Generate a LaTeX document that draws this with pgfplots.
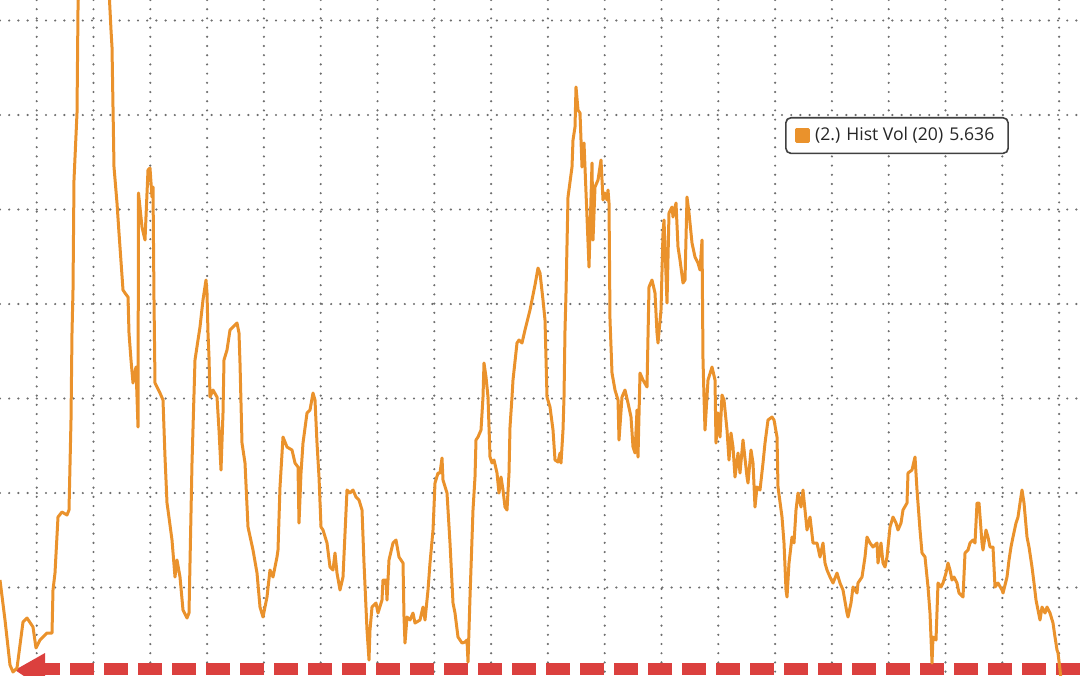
\documentclass[border=0pt]{standalone}
\usepackage{fontspec}
\setmainfont{Open Sans}
\usepackage{pgfplots}
\pgfplotsset{compat=1.18}
\definecolor{volorange}{RGB}{234,146,44}
\definecolor{arrowred}{RGB}{219,64,62}
\definecolor{gridgray}{RGB}{110,110,110}
\begin{document}
\begin{tikzpicture}
\begin{axis}[
  name=ax,
  scale only axis,
  width=540pt, height=337.5pt,
  xmin=0, xmax=1080, ymin=0, ymax=675,
  y dir=reverse,
  axis line style={draw=none},
  tick style={draw=none},
  xticklabels={}, yticklabels={},
  xtick={36.7,93.5,150.3,207.1,263.9,320.7,377.5,434.3,491.1,547.9,604.7,661.5,718.3,775.1,831.9,888.7,945.5,1002.3,1059.1},
  ytick={20.5,115,209.5,304,398.5,493,587.5},
  grid=major,
  major grid style={draw=gridgray, line width=1.2pt, line cap=round, dash pattern=on 0pt off 4.6pt},
  legend style={at={(axis description cs:0.7269,0.8267)}, anchor=north west,
    draw=black!75, line width=0.8pt, rounded corners=2.5pt, fill=white,
    font=\fontsize{8.8}{9.5}\selectfont, text=black!85,
    inner xsep=4.5pt, inner ysep=2.8pt,
    nodes={inner xsep=2.4pt}},
  legend image code/.code={\fill[volorange, sharp corners] (0pt,-3.1pt) rectangle (6.2pt,3.1pt);},
]
% red dashed arrow (annotation)
\draw[arrowred, line width=6.2pt, dash pattern=on 12pt off 5pt] (1080,669) -- (40,669);
\fill[arrowred] (15,670) -- (45,653) -- (45,690) -- cycle;
\addplot[volorange, line width=1.5pt, line join=round] coordinates {
(0,580)(5,620)(10,665)(13,672)(17,668)(20,645)(23,622)(27,618)(33,627)(36,648)(40,640)(47,633)(52,633)(53,590)(55,573)(58,517)(62,512)(67,515)(69,510)(71,420)(72,333)(73,290)(74,180)(77,113)(78,10)(79,-30)
(108,-30)(110,10)(111,30)(112,47)(114,167)(117,203)(119,233)(123,290)(125,293)(128,297)(129,333)(131,360)(133,383)(136,367)(138,427)(138.5,193)(142,227)(145,240)(148,170)(150,168)(152,197)(153,187)(154,300)
(155,383)(160,393)(163,400)(165,457)(167,503)(168,510)(172,540)(175,577)(177,560)(180,577)(183,610)(187,618)(189,613)(192,463)(195,360)(198,340)(200,327)(203,300)(206,280)(207,293)(208,333)(209,357)(210,397)(213,390)(217,397)(219,430)(221,470)(223,413)(224,360)(227,350)(230,330)(233,327)(237,323)(239,333)(240,363)(242,443)(245,463)(248,527)(253,550)(257,573)(260,607)(263,617)(267,597)(270,570)
(273,577)(277,557)(278,550)(280,487)(283,437)(287,447)(292,450)(295,463)(298,467)(299,523)(301,473)(303,443)(307,413)(310,410)(313,393)(315,400)(317,443)(319,477)(321,527)(323,530)(327,543)(330,567)(333,570)(335,553)(337,573)(340,590)(343,577)(347,490)(350,493)(353,490)(356,497)(359,500)(362,510)(364,563)(367,630)(369,660)(370,630)(372,607)(376,603)(378,613)(382,600)(383,580)(386,580)(387,600)(389,560)(393,543)(396,540)(399,557)(403,563)(404,617)(405,643)(407,617)(410,620)(413,613)(415,623)(420,620)(423,607)(425,620)(428,590)(430,563)(433,530)(435,483)(438,473)(440,473)(442,458)(443,480)(447,493)(450,543)(453,603)(455,613)(458,637)(462,643)(465,642)(467,640)(468,662)(470,597)(473,510)(475,477)(476,440)(478,437)(481,430)(483,397)(484,363)(486,377)(488,397)(490,457)(492,463)(494,460)(497,473)(499,493)(501,477)(503,490)(505,507)(507,510)(509,473)(510,427)(512,397)(513,380)(517,343)(519,340)(522,343)(525,330)(530,310)(535,285)(538,268)(540,273)
(543,300)(545,320)(547,397)(550,407)(553,430)(555,460)(558,462)(560,453)(561,463)(563,430)(564,397)(565,330)(566,293)(568,197)(572,167)(573,140)(575,127)(576,87)(578,110)(580,113)(582,167)(584,143)(587,217)(589,267)(592,163)(593,240)(595,187)(598,180)(601,160)(603,200)(605,193)(607,200)(608,190)(609,203)(610,320)(612,373)(615,390)(618,400)(619,440)(622,397)(625,390)(628,403)(631,417)(633,447)(635,453)(637,410)(638,457)(640,373)(643,380)(647,387)(649,287)(652,280)(655,293)(657,333)(658,343)(661,310)(663,233)(664,220)(667,303)(669,213)(672,207)(673,217)(676,203)(678,247)(680,260)(683,283)(685,280)(687,197)(689,213)(692,243)(695,257)(698,263)(700,270)(702,240)(703,360)(704,397)(705,430)(708,380)(712,367)(715,380)(716,443)(718,413)(720,437)(722,395)(724,400)(727,430)(729,460)(731,433)(733,447)(735,477)(738,453)(740,473)(743,440)(747,477)(748,483)(751,450)(753,463)(755,507)(757,487)(760,490)(763,463)(765,443)(768,420)(772,417)(774,420)(777,437)(778,487)(782,517)(784,543)(786,590)(787,597)(789,563)(792,537)(794,543)(796,510)(798,493)(801,507)(803,490)(807,530)(810,517)
(813,543)(817,543)(820,557)(823,543)(825,563)(827,570)(830,577)(833,583)(837,573)(840,583)(843,590)(847,613)(848,617)(851,603)(853,587)(857,593)(858,583)(862,577)(865,557)(867,537)(870,543)(873,547)(877,543)(878,563)(881,543)(883,563)(885,567)(887,557)(890,527)(893,517)(896,523)(898,530)(901,523)(903,510)(907,503)(908,473)(912,470)(915,457)(917,490)(920,530)(922,553)(925,557)(927,577)(928,587)(930,613)(932,663)(933,637)(936,640)(938,583)(941,587)(943,583)(946,573)(948,563)(950,570)(952,580)(954,577)(957,583)(959,593)(963,597)(965,553)(968,550)(970,543)(973,540)(975,543)(977,503)(979,503)(982,543)(983,550)(986,530)(988,537)(990,547)(993,547)(995,587)(998,583)(1002,590)(1003,593)(1007,577)(1009,560)(1011,547)(1013,537)(1016,523)(1018,517)(1020,503)(1022,490)(1024,503)(1027,537)(1029,547)(1032,567)(1034,583)(1036,600)(1038,610)(1040,620)(1042,607)(1045,613)(1047,607)(1050,613)(1053,623)(1055,637)(1057,650)(1058,653)(1060,670)(1062,690)
};
\addlegendentry{(2.) Hist Vol (20)\hspace{0.35em}5.636}
\end{axis}
\pgfresetboundingbox
\path[use as bounding box] (ax.south west) rectangle (ax.north east);
\end{tikzpicture}
\end{document}
